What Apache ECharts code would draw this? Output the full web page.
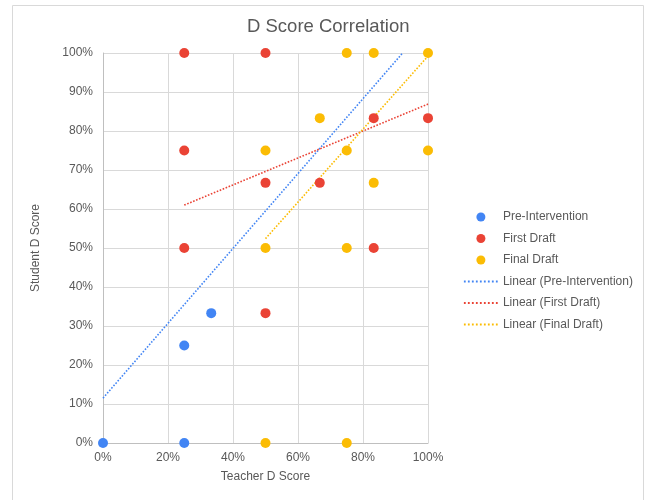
<!DOCTYPE html>
<html>
<head>
<meta charset="utf-8">
<script src="https://cdn.jsdelivr.net/npm/echarts@6/dist/echarts.min.js"></script>
<style>
  html, body { margin: 0; padding: 0; background: #fff; }
  #chart { width: 652px; height: 500px; }
</style>
</head>
<body>
<div id="chart"></div>
<script>
// Teacher D score (x) vs student D score (y), as fractions
const preIntervention = [[0, 0], [0.25, 0], [0.25, 0.25], [0.333, 0.333]];
const firstDraft = [
  [0.25, 1.0], [0.5, 1.0], [0.25, 0.75], [0.5, 0.667], [0.667, 0.667],
  [0.833, 0.833], [1.0, 0.833], [0.25, 0.5], [0.833, 0.5], [0.5, 0.333]
];
const finalDraft = [
  [0.75, 1.0], [0.833, 1.0], [1.0, 1.0], [0.667, 0.833], [0.5, 0.75],
  [0.75, 0.75], [1.0, 0.75], [0.833, 0.667], [0.5, 0.5], [0.75, 0.5],
  [0.5, 0], [0.75, 0]
];

// Linear trend line endpoints
const trendPre = [[0, 0.115], [0.922, 1.0]];
const trendFirst = [[0.25, 0.61], [1.0, 0.869]];
const trendFinal = [[0.5, 0.524], [1.0, 0.992]];

const seriesNames = [
  'Pre-Intervention', 'First Draft', 'Final Draft',
  'Linear (Pre-Intervention)', 'Linear (First Draft)', 'Linear (Final Draft)'
];
const colors = ['#4285f4', '#ea4335', '#fbbc04'];

const textColor = '#595959';
const font = 'Arial, "Liberation Sans", sans-serif';
const pct = v => Math.round(v * 100) + '%';

const chart = echarts.init(document.getElementById('chart'));

function scatter(name, data, color) {
  return {
    name, type: 'scatter', data, symbol: 'circle', symbolSize: 10,
    itemStyle: { color, opacity: 1 }, z: 3
  };
}
function trend(name, data, color) {
  return {
    name, type: 'line', data, showSymbol: false, symbol: 'none',
    lineStyle: { color, width: 1.6, type: [1.6, 1.6] },
    itemStyle: { color }, z: 2, animation: false, silent: true
  };
}

// Dots for the scatter entries, bare dotted strokes for the trend entries
const legendData = seriesNames.map((name, i) =>
  i < 3
    ? { name, icon: 'circle' }
    : { name, itemStyle: { opacity: 0 }, lineStyle: { width: 1.8, type: [1.8, 2.2] } }
);

chart.setOption({
  animation: false,
  textStyle: { fontFamily: font, color: textColor },
  title: {
    text: 'D Score Correlation', left: 242, top: 12,
    textStyle: { fontSize: 18.5, fontWeight: 'normal', color: textColor, fontFamily: font }
  },
  grid: { left: 103, right: 224, top: 53, bottom: 57 },
  xAxis: {
    type: 'value', min: 0, max: 1, interval: 0.2,
    name: 'Teacher D Score', nameLocation: 'middle', nameGap: 28,
    nameTextStyle: { fontSize: 12, color: textColor },
    axisLine: { show: true, lineStyle: { color: '#bfbfbf' } },
    axisTick: { show: false },
    axisLabel: { formatter: pct, fontSize: 12, color: textColor, margin: 9 },
    splitLine: { lineStyle: { color: '#d9d9d9' } }
  },
  yAxis: {
    type: 'value', min: 0, max: 1, interval: 0.1,
    name: 'Student D Score', nameLocation: 'middle', nameGap: 61, nameRotate: 90,
    nameTextStyle: { fontSize: 12, color: textColor },
    axisLine: { show: true, lineStyle: { color: '#bfbfbf' } },
    axisTick: { show: false },
    axisLabel: { formatter: pct, fontSize: 12, color: textColor, margin: 10 },
    splitLine: { lineStyle: { color: '#d9d9d9' } }
  },
  legend: {
    orient: 'vertical', left: 458, top: 206,
    itemWidth: 34, itemHeight: 9, itemGap: 9.5,
    textStyle: { fontSize: 12, color: textColor, fontFamily: font },
    data: legendData
  },
  graphic: [{
    type: 'rect', silent: true, z: -1,
    shape: { x: 12.5, y: 5.5, width: 631, height: 520 },
    style: { fill: 'none', stroke: '#d9d9d9', lineWidth: 1 }
  }],
  series: [
    scatter(seriesNames[0], preIntervention, colors[0]),
    scatter(seriesNames[1], firstDraft, colors[1]),
    scatter(seriesNames[2], finalDraft, colors[2]),
    trend(seriesNames[3], trendPre, colors[0]),
    trend(seriesNames[4], trendFirst, colors[1]),
    trend(seriesNames[5], trendFinal, colors[2])
  ]
});
</script>
</body>
</html>
